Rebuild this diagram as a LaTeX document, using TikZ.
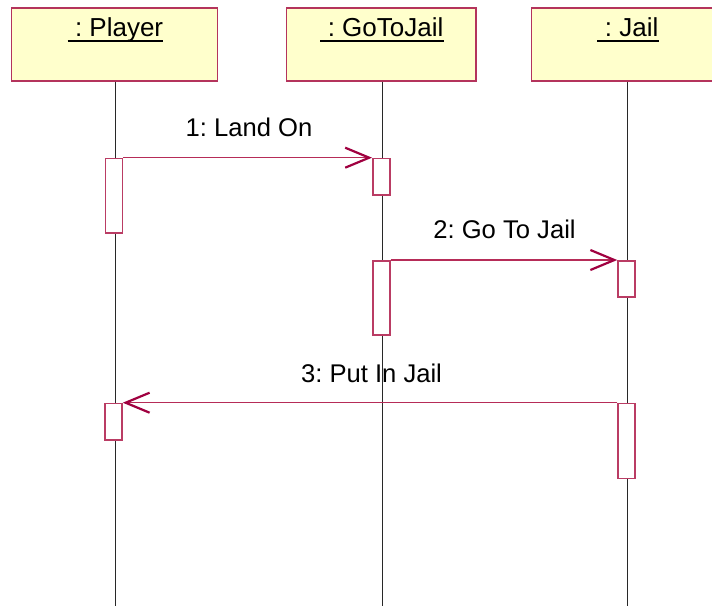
\documentclass[tikz,border=0pt]{standalone}
\usepackage{fontspec}
\setmainfont{Liberation Sans}
\usetikzlibrary{arrows.meta}
\definecolor{objfill}{RGB}{255,255,204}
\definecolor{objline}{RGB}{180,52,92}
\definecolor{actline}{RGB}{186,60,100}
\definecolor{msgline}{RGB}{182,44,88}
\definecolor{tipcol}{RGB}{160,0,64}
\definecolor{lifecol}{RGB}{40,40,40}
\frenchspacing
\begin{document}
\begin{tikzpicture}[x=1pt,y=-1pt,
  objbox/.style={draw=objline,fill=objfill,line width=1.4pt},
  objname/.style={inner sep=0pt,anchor=base,font=\fontsize{26}{31}\selectfont},
  uline/.style={line width=2pt,black},
  lifeline/.style={lifecol,line width=0.9pt},
  actbox/.style={draw=actline,fill=white,line width=1.5pt,inner sep=0pt,minimum width=17pt},
  msg/.style={msgline,line width=1.3pt,-{Straight Barb[length=24pt,width=20pt,line width=2.2pt,color=tipcol]}},
  msglabel/.style={inner sep=0pt,anchor=base,font=\fontsize{25.6}{31}\selectfont}]
\useasboundingbox (0,0) rectangle (712,606);
\fill[white] (0,0) rectangle (712,606);

% object heads
\path[objbox] (11.5,8) rectangle (217.5,81);
\path[objbox] (286.5,8) rectangle (476,81);
\begin{scope}
  \clip (0,0) rectangle (712,606);
  \path[objbox] (531.5,8) rectangle (726,81);
\end{scope}

\node[objname] (nplayer) at (115.5,36.7) {\ : Player};
\node[objname] (ngtj) at (382,36.7) {\ : GoToJail};
\node[objname] (njail) at (628,36.7) {\ : Jail};
\foreach \n in {nplayer,ngtj,njail}
  \draw[uline] ([yshift=-4.5pt]\n.base west) -- ([yshift=-4.5pt]\n.base east);

% lifeline anchors
\coordinate (pTop) at (115.5,81.7);
\coordinate (pBot) at (115.5,606);
\coordinate (gTop) at (382.5,81.7);
\coordinate (gBot) at (382.5,606);
\coordinate (jTop) at (627.5,81.7);
\coordinate (jBot) at (627.5,606);

% message labels
\node[msglabel] (l1) at (249,136.7) {1: Land On};
\node[msglabel] (l2) at (504.5,238.5) {2: Go To Jail};
\node[msglabel] (l3) at (371.5,382.5) {3: Put In Jail};

% lifelines
\draw[lifeline] (pTop) -- (pBot);
\draw[lifeline] (gTop) -- (gBot);
\draw[lifeline] (jTop) -- (jBot);

% activation bars
\node[actbox,anchor=north,minimum height=74.3pt] (pa1) at (114,157.7) {};
\node[actbox,anchor=north,minimum height=36.3pt] (ga1) at (381.3,157.7) {};
\node[actbox,anchor=north,minimum height=74pt] (ga2) at (381.3,260) {};
\node[actbox,anchor=north,minimum height=36pt] (ja1) at (626.5,260) {};
\node[actbox,anchor=north,minimum height=36.3pt] (pa2) at (113.5,402.7) {};
\node[actbox,anchor=north,minimum height=75pt] (ja2) at (626.5,402.7) {};

% messages
\draw[msg] (pa1.north east) -- (ga1.north west);
\draw[msg] (ga2.north east) -- (ja1.north west);
\draw[msg] (ja2.north west) -- (pa2.north east);
\end{tikzpicture}
\end{document}
